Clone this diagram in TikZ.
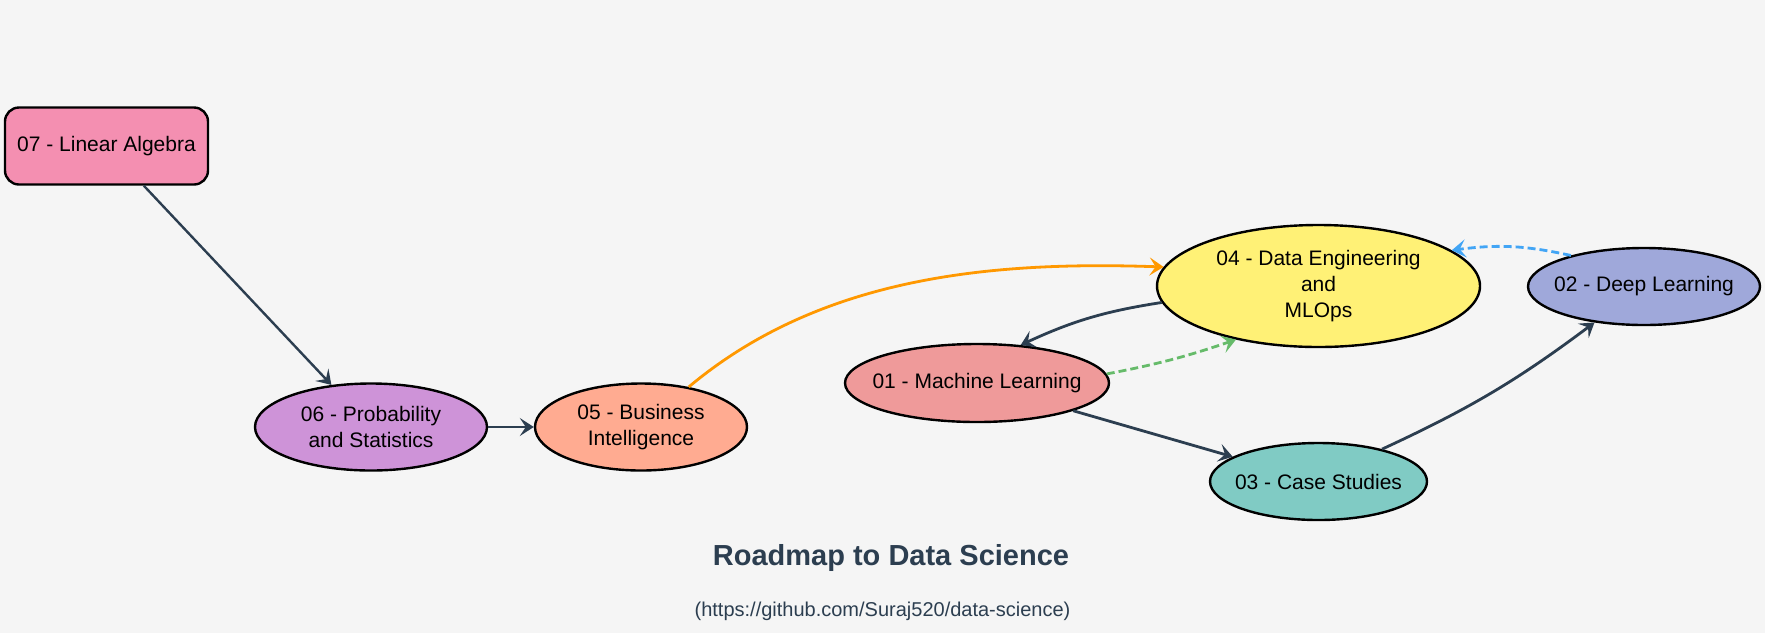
\documentclass[tikz,border=0pt]{standalone}
\usepackage{fontspec}
\setmainfont{Liberation Sans}
\usepackage{tikz}
\usetikzlibrary{shapes.geometric,arrows.meta,positioning}
\definecolor{bgpaper}{HTML}{F5F5F5}
\definecolor{inkdark}{HTML}{2C3E50}
\definecolor{linalgpink}{HTML}{F48FB1}
\definecolor{probpurple}{HTML}{CE93D8}
\definecolor{bipeach}{HTML}{FFAB91}
\definecolor{mlred}{HTML}{EF9A9A}
\definecolor{deyellow}{HTML}{FFF176}
\definecolor{dlblue}{HTML}{9FA8DA}
\definecolor{csteal}{HTML}{80CBC4}
\definecolor{flowOrange}{HTML}{FF9800}
\definecolor{flowGreen}{HTML}{66BB6A}
\definecolor{flowBlue}{HTML}{42A5F5}

\begin{document}
\begin{tikzpicture}[
        x=0.5pt, y=-0.5pt,
        % Soft fills with a dark outline, as in the roadmap.
        topic/.style={ellipse, draw, line width=1.2pt, fill=#1, text=black,
            inner xsep=-10pt, inner ysep=0pt, align=center,
            font=\fontsize{10.5}{13}\selectfont},
        card/.style={rectangle, rounded corners=7pt, draw, line width=1.2pt,
            fill=#1, text=black, inner sep=0pt, align=center,
            font=\fontsize{10.5}{13}\selectfont},
        link/.style={-{Stealth[length=7pt,width=9pt,inset=3pt]},
            line width=1.4pt, draw=#1},
        link/.default=inkdark,
        faint/.style={dash pattern=on 4pt off 2pt}
    ]
        % Background and page frame
        \fill[bgpaper] (0,0) rectangle (1765,633);
        \useasboundingbox (0,0) rectangle (1765,633);

        % Topics
        \node[card=linalgpink, minimum width=101.5pt, minimum height=38.5pt] (la) at (106.5,146) {07 - Linear Algebra};
        \node[topic=probpurple, minimum width=116pt, minimum height=43.5pt] (ps) at (371,427) {06 - Probability\\and Statistics};
        \node[topic=bipeach, minimum width=106pt, minimum height=43.5pt] (bi) at (641,427) {05 - Business\\Intelligence};
        \node[topic=mlred, minimum width=132pt, minimum height=39pt] (ml) at (977,383) {01 - Machine Learning};
        \node[topic=deyellow, minimum width=161.5pt, minimum height=61pt] (de) at (1318.5,286) {04 - Data Engineering\\and\\MLOps};
        \node[topic=dlblue, minimum width=116pt, minimum height=38.5pt] (dl) at (1644,286.5) {02 - Deep Learning};
        \node[topic=csteal, minimum width=108.5pt, minimum height=38.5pt] (cs) at (1318.5,481.5) {03 - Case Studies};

        % Connections
        \draw[link, line width=1.2pt] (la) -- (ps);
        \draw[link] (ps) -- (bi);
        \draw[link=flowOrange] (bi.40) to[out=40, in=178, looseness=0.9] (de.173);
        \draw[link] (de.186) to[bend right=8] (ml.41);
        \draw[link=flowGreen, faint] (ml.4) to[bend right=4] (de.213);
        \draw[link] (ml) -- (cs);
        \draw[link] (cs.27) to[bend right=6] (dl.216);
        \draw[link=flowBlue, faint] (dl.157) to[bend right=10] (de.15);

        % Caption
        \node[text=inkdark, font=\fontsize{14.5}{17}\selectfont\bfseries] (title) at (891,558) {Roadmap to Data Science};
        \node[text=inkdark, font=\fontsize{10}{12}\selectfont] (src) at (882.5,611) {(https://github.com/Suraj520/data-science)};
    \end{tikzpicture}
\end{document}
